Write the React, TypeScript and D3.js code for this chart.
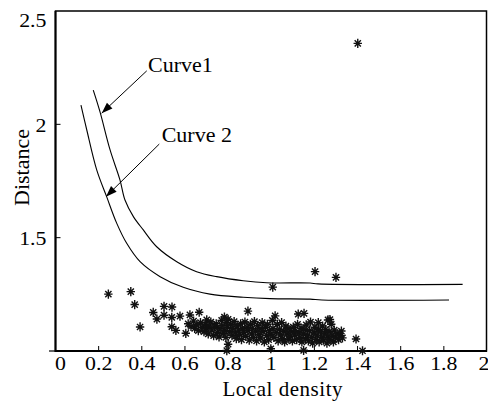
import React from "react";
import * as d3 from "d3";

const W = 488;
const H = 401;

const xTicks = [0, 0.2, 0.4, 0.6, 0.8, 1, 1.2, 1.4, 1.6, 1.8, 2];
const xTickLabels = ["0", "0.2", "0.4", "0.6", "0.8", "1", "1.2", "1.4", "1.6", "1.8", "2"];
const yTicks = [1.5, 2, 2.5];
const yTickLabels = ["1.5", "2", "2.5"];

const curve1: [number, number][] = [
  [0.175, 2.151], [0.206, 2.056], [0.253, 1.887], [0.299, 1.754], [0.322, 1.666],
  [0.361, 1.593], [0.407, 1.534], [0.469, 1.46], [0.562, 1.394], [0.654, 1.35],
  [0.747, 1.328], [0.87, 1.31], [0.979, 1.301], [1.18, 1.3], [1.217, 1.296], [1.887, 1.294],
];
const curve2: [number, number][] = [
  [0.118, 2.085], [0.145, 1.975], [0.191, 1.799], [0.237, 1.681], [0.284, 1.563],
  [0.33, 1.475], [0.392, 1.394], [0.485, 1.328], [0.592, 1.281], [0.716, 1.251],
  [0.87, 1.237], [0.994, 1.231], [1.18, 1.229], [1.235, 1.225], [1.824, 1.225],
];

const points: [number, number][] = [
  [0.245, 1.251], [0.349, 1.262], [0.367, 1.205], [0.392, 1.106], [0.453, 1.17],
  [0.47, 1.141], [0.503, 1.197], [0.54, 1.194], [0.503, 1.158], [0.539, 1.148],
  [0.577, 1.154], [0.539, 1.107], [0.558, 1.091], [0.623, 1.159], [0.666, 1.171],
  [0.604, 1.078], [0.701, 1.137], [1.007, 1.282], [0.892, 1.176], [1.203, 1.35],
  [1.3, 1.325], [1.401, 2.357], [1.393, 1.053], [1.423, 1.001], [1.125, 1.163],
  [1.152, 1.166], [1.272, 1.139], [1.218, 1.125], [1.263, 1.137],
  [0.615, 1.12], [0.628, 1.108], [0.64, 1.132], [0.645, 1.1], [0.655, 1.115],
  [0.662, 1.09], [0.672, 1.125], [0.68, 1.105], [0.688, 1.085], [0.695, 1.118], [0.7, 1.098],
  [0.708, 1.075], [0.712, 1.11], [0.72, 1.128], [0.725, 1.092], [0.733, 1.068],
  [0.738, 1.105], [0.745, 1.12], [0.75, 1.082], [0.758, 1.062], [0.762, 1.098],
  [0.77, 1.135], [0.772, 1.112], [0.778, 1.076], [0.783, 1.15], [0.785, 1.09],
  [0.79, 1.06], [0.792, 1.125], [0.797, 1.105], [0.8, 1.03], [0.8, 1.14], [0.794, 1.002],
  [0.808, 1.085], [0.812, 1.118], [0.818, 1.068], [0.822, 1.1], [0.828, 1.13],
  [0.833, 1.08], [0.838, 1.055], [0.842, 1.11], [0.848, 1.092], [0.852, 1.072],
  [0.858, 1.12], [0.862, 1.05], [0.866, 1.1], [0.872, 1.083], [0.878, 1.128],
  [0.882, 1.065], [0.888, 1.105], [0.892, 1.09], [0.898, 1.048],
  [0.903, 1.118], [0.908, 1.075], [0.912, 1.1], [0.918, 1.06], [0.922, 1.13],
  [0.928, 1.088], [0.932, 1.045], [0.937, 1.112], [0.942, 1.072], [0.948, 1.098],
  [0.952, 1.058], [0.958, 1.125], [0.962, 1.085], [0.968, 1.04], [0.972, 1.105],
  [0.978, 1.068], [0.982, 1.118], [0.988, 1.05], [0.992, 1.09], [0.998, 1.01], [0.998, 1.072],
  [1.005, 1.135], [1.008, 1.1], [1.012, 1.06], [1.018, 1.155], [1.022, 1.082],
  [1.028, 1.118], [1.032, 1.045], [1.038, 1.095], [1.042, 1.07], [1.048, 1.125],
  [1.052, 1.055], [1.058, 1.088], [1.062, 1.04], [1.068, 1.11], [1.072, 1.075],
  [1.078, 1.098], [1.082, 1.052], [1.088, 1.065], [1.092, 1.085], [1.098, 1.045],
  [1.102, 1.105], [1.108, 1.07], [1.112, 1.09], [1.118, 1.05], [1.122, 1.118],
  [1.128, 1.08], [1.132, 1.06], [1.138, 1.1], [1.142, 1.04], [1.148, 1.075],
  [1.15, 1.003], [1.152, 1.095], [1.158, 1.055], [1.162, 1.115], [1.168, 1.07],
  [1.172, 1.045], [1.178, 1.09], [1.182, 1.128], [1.188, 1.06], [1.192, 1.035], [1.198, 1.08],
  [1.202, 1.105], [1.208, 1.05], [1.212, 1.07], [1.218, 1.095], [1.222, 1.04],
  [1.228, 1.085], [1.232, 1.06], [1.238, 1.11], [1.242, 1.048], [1.248, 1.075],
  [1.252, 1.095], [1.258, 1.035], [1.262, 1.062], [1.268, 1.085], [1.272, 1.05],
  [1.278, 1.118], [1.282, 1.07], [1.288, 1.04], [1.292, 1.092], [1.298, 1.06],
  [1.305, 1.078], [1.312, 1.05], [1.318, 1.068], [1.325, 1.088], [1.33, 1.058],
];

const labels = [
  { text: "Curve1", at: [0.429, 2.232], from: [0.423, 2.236], to: [0.214, 2.049] },
  { text: "Curve 2", at: [0.492, 1.923], from: [0.481, 1.913], to: [0.234, 1.681] },
];

const FONT = "Liberation Serif, Times New Roman, DejaVu Serif, serif";

export default function App() {
  const left = 55.5, right = 487, top = 11, bottom = 351;
  const x = d3.scaleLinear().domain([0, 2]).range([left, right]);
  const y = d3.scaleLinear().domain([1, 2.5]).range([bottom, top]);
  const line = d3.line<[number, number]>().x(d => x(d[0])).y(d => y(d[1])).curve(d3.curveCatmullRom.alpha(0.5));
  const star = "M-4.2,0H4.2M0,-4.6V4.6M-3.1,-3.1L3.1,3.1M-3.1,3.1L3.1,-3.1";
  const ts = { fontFamily: FONT };

  const arrowHead = (fx: number, fy: number, tx: number, ty: number) => {
    const ang = Math.atan2(ty - fy, tx - fx);
    const L = 11, w = 4;
    const bx = tx - L * Math.cos(ang), by = ty - L * Math.sin(ang);
    const px = -Math.sin(ang) * w, py = Math.cos(ang) * w;
    return `M${tx},${ty}L${bx + px},${by + py}L${bx - px},${by - py}Z`;
  };

  return (
    <svg width={W} height={H} style={{ position: "absolute", left: 0, top: 0, background: "#fff" }}>
      <rect x={0} y={0} width={W} height={H} fill="#fff" />
      {/* frame */}
      <rect x={left} y={top} width={right - left - 0.5} height={bottom - top} fill="none" stroke="#000" strokeWidth={1.5} />
      <line x1={left} x2={left} y1={top} y2={bottom + 1} stroke="#000" strokeWidth={2} />
      <line x1={left} x2={right} y1={bottom} y2={bottom} stroke="#000" strokeWidth={2} />
      <line x1={49} x2={left} y1={bottom} y2={bottom} stroke="#000" strokeWidth={1.2} />
      {/* x ticks */}
      {xTicks.map((t, i) => (
        <g key={"xt" + i}>
          {i > 0 && i < xTicks.length - 1 && (
            <line x1={x(t)} x2={x(t)} y1={bottom} y2={bottom - 5} stroke="#000" strokeWidth={1} />
          )}
          <text
            transform={`translate(${i === 0 ? x(t) + 5 : i === xTicks.length - 1 ? x(t) - 3 : x(t)},370) scale(1.15,1)`}
            textAnchor="middle"
            fontSize={19}
            fill="#000"
            style={ts}
          >
            {xTickLabels[i]}
          </text>
        </g>
      ))}
      {/* y ticks */}
      {yTicks.map((t, i) => (
        <g key={"yt" + i}>
          {t < 2.5 && <line x1={left} x2={left + 5} y1={y(t)} y2={y(t)} stroke="#000" strokeWidth={1} />}
          <text
            transform={`translate(46.5,${t === 2.5 ? 27 : y(t) + 7.5}) scale(1.15,1)`}
            textAnchor="end"
            fontSize={19}
            fill="#000"
            style={ts}
          >
            {yTickLabels[i]}
          </text>
        </g>
      ))}
      {/* axis titles */}
      <text x={222.5} y={396} fontSize={21} fill="#000" textLength={120} style={ts}>Local density</text>
      <text transform="translate(29,167.5) rotate(-90)" textAnchor="middle" fontSize={22} fill="#000" style={ts}>Distance</text>
      {/* curves */}
      <path d={line(curve1) || ""} fill="none" stroke="#000" strokeWidth={1.1} />
      <path d={line(curve2) || ""} fill="none" stroke="#000" strokeWidth={1.1} />
      {/* points */}
      {points.map((p, i) => (
        <path key={"p" + i} d={star} transform={`translate(${x(p[0])},${y(p[1])})`} stroke="#111" strokeWidth={1.4} fill="none" />
      ))}
      {/* annotations */}
      {labels.map((l, i) => {
        const fx = x(l.from[0]), fy = y(l.from[1]), tx = x(l.to[0]), ty = y(l.to[1]);
        return (
          <g key={"l" + i}>
            <line x1={fx} y1={fy} x2={tx} y2={ty} stroke="#000" strokeWidth={1} />
            <path d={arrowHead(fx, fy, tx, ty)} fill="#000" />
            <text x={x(l.at[0])} y={y(l.at[1])} fontSize={22} fill="#000" style={ts}>{l.text}</text>
          </g>
        );
      })}
    </svg>
  );
}
